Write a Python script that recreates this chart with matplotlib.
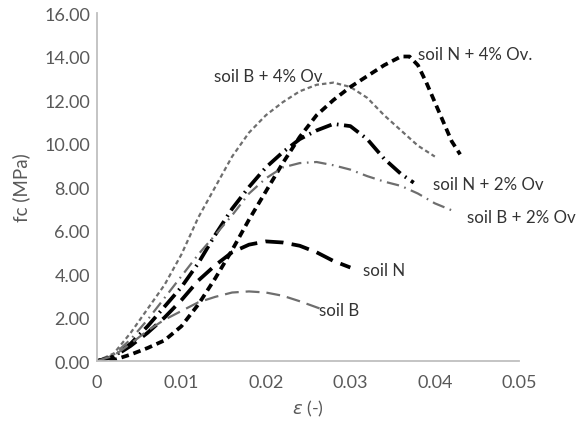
import matplotlib
matplotlib.use("Agg")
import matplotlib.pyplot as plt

plt.rcParams['font.family'] = ['Lato', 'DejaVu Sans']
plt.rcParams['lines.scale_dashes'] = False

# strain values and stress (MPa)
x_b4 = [0, 0.002, 0.004, 0.006, 0.008, 0.010, 0.012, 0.014, 0.016, 0.018, 0.020,
        0.022, 0.024, 0.026, 0.028, 0.030, 0.032, 0.034, 0.036, 0.038, 0.040]
y_b4 = [0, 0.35, 1.3, 2.4, 3.5, 4.9, 6.6, 8.0, 9.4, 10.5, 11.3,
        11.9, 12.4, 12.7, 12.8, 12.6, 12.1, 11.3, 10.6, 9.9, 9.4]

x_n4 = [0, 0.002, 0.004, 0.006, 0.008, 0.010, 0.012, 0.014, 0.016, 0.018, 0.020,
        0.022, 0.024, 0.026, 0.028, 0.030, 0.032, 0.034, 0.036, 0.037, 0.038,
        0.039, 0.040, 0.041, 0.042, 0.043]
y_n4 = [0, 0.05, 0.3, 0.6, 0.95, 1.6, 2.6, 3.8, 5.1, 6.5, 7.8,
        9.1, 10.3, 11.3, 12.0, 12.6, 13.1, 13.6, 14.0, 14.0, 13.6,
        12.8, 11.9, 11.0, 10.1, 9.5]

x_n2 = [0, 0.002, 0.004, 0.006, 0.008, 0.010, 0.012, 0.014, 0.016, 0.018, 0.020,
        0.022, 0.024, 0.026, 0.028, 0.030, 0.032, 0.034, 0.036, 0.0375]
y_n2 = [0, 0.2, 0.8, 1.6, 2.5, 3.4, 4.5, 5.8, 7.0, 8.0, 8.9,
        9.6, 10.2, 10.6, 10.9, 10.8, 10.2, 9.3, 8.6, 8.2]

x_b2 = [0, 0.002, 0.004, 0.006, 0.008, 0.010, 0.012, 0.014, 0.016, 0.018, 0.020,
        0.022, 0.024, 0.026, 0.028, 0.030, 0.032, 0.034, 0.036, 0.038, 0.040, 0.0425]
y_b2 = [0, 0.3, 1.0, 1.9, 2.9, 3.9, 4.9, 5.8, 6.7, 7.7, 8.4,
        8.9, 9.1, 9.15, 9.0, 8.8, 8.5, 8.25, 8.05, 7.7, 7.25, 6.85]

x_n = [0, 0.002, 0.004, 0.006, 0.008, 0.010, 0.012, 0.014, 0.016, 0.018, 0.020,
       0.022, 0.024, 0.026, 0.028, 0.030]
y_n = [0, 0.2, 0.7, 1.3, 2.0, 2.8, 3.7, 4.4, 5.0, 5.35, 5.5,
       5.45, 5.3, 5.0, 4.6, 4.3]

x_b = [0, 0.002, 0.004, 0.006, 0.008, 0.010, 0.012, 0.014, 0.016, 0.018, 0.020,
       0.022, 0.024, 0.0265]
y_b = [0, 0.25, 0.8, 1.4, 1.9, 2.3, 2.7, 2.95, 3.15, 3.2, 3.15,
       3.0, 2.75, 2.4]

x_ticks = [0, 0.01, 0.02, 0.03, 0.04, 0.05]
x_tick_labels = ['0', '0.01', '0.02', '0.03', '0.04', '0.05']
y_ticks = [0, 2, 4, 6, 8, 10, 12, 14, 16]

gray_line = '#6e6e6e'
black_line = '#000000'
text_gray = '#595959'
axis_gray = '#bfbfbf'

fig = plt.figure(figsize=(5.77, 4.31), dpi=100)
ax = fig.add_axes([0.168, 0.16, 0.732, 0.8075])

ax.plot(x_b4, y_b4, color=gray_line, linewidth=1.6, dashes=(3.2, 2.2))
ax.plot(x_n4, y_n4, color=black_line, linewidth=2.7, dashes=(5.5, 3.5))
ax.plot(x_n2, y_n2, color=black_line, linewidth=2.7, dashes=(12, 4, 1.2, 4))
ax.plot(x_b2, y_b2, color=gray_line, linewidth=1.6, dashes=(9, 4, 1.2, 4))
ax.plot(x_n, y_n, color=black_line, linewidth=2.7, dashes=(13, 6))
ax.plot(x_b, y_b, color=gray_line, linewidth=1.6, dashes=(10, 5))

lab_kw = dict(fontsize=12.2, color='#333333', va='center', ha='left')
ax.text(0.0138, 13.1, 'soil B + 4% Ov', **lab_kw)
ax.text(0.0380, 14.1, 'soil N + 4% Ov.', **lab_kw)
ax.text(0.0398, 8.15, 'soil N + 2% Ov', **lab_kw)
ax.text(0.0438, 6.6, 'soil B + 2% Ov', **lab_kw)
ax.text(0.0315, 4.2, 'soil N', **lab_kw)
ax.text(0.0263, 2.35, 'soil B', **lab_kw)

ax.set_xlim(0, 0.05)
ax.set_ylim(0, 16)
ax.set_xticks(x_ticks)
ax.set_xticklabels(x_tick_labels)
ax.set_yticks(y_ticks)
ax.set_yticklabels([f'{v:.2f}' for v in y_ticks])
ax.tick_params(length=0, labelsize=13, labelcolor=text_gray)
ax.tick_params(axis='y', pad=5)
ax.tick_params(axis='x', pad=9)

for side in ['top', 'right']:
    ax.spines[side].set_visible(False)
for side in ['left', 'bottom']:
    ax.spines[side].set_color(axis_gray)
    ax.spines[side].set_linewidth(1.3)

ax.set_xlabel(r'$\epsilon$ (-)', fontsize=13, color=text_gray, labelpad=6)
ax.set_ylabel('fc (MPa)', fontsize=13.5, color=text_gray, labelpad=10)

fig.savefig('out.png', dpi=100)
